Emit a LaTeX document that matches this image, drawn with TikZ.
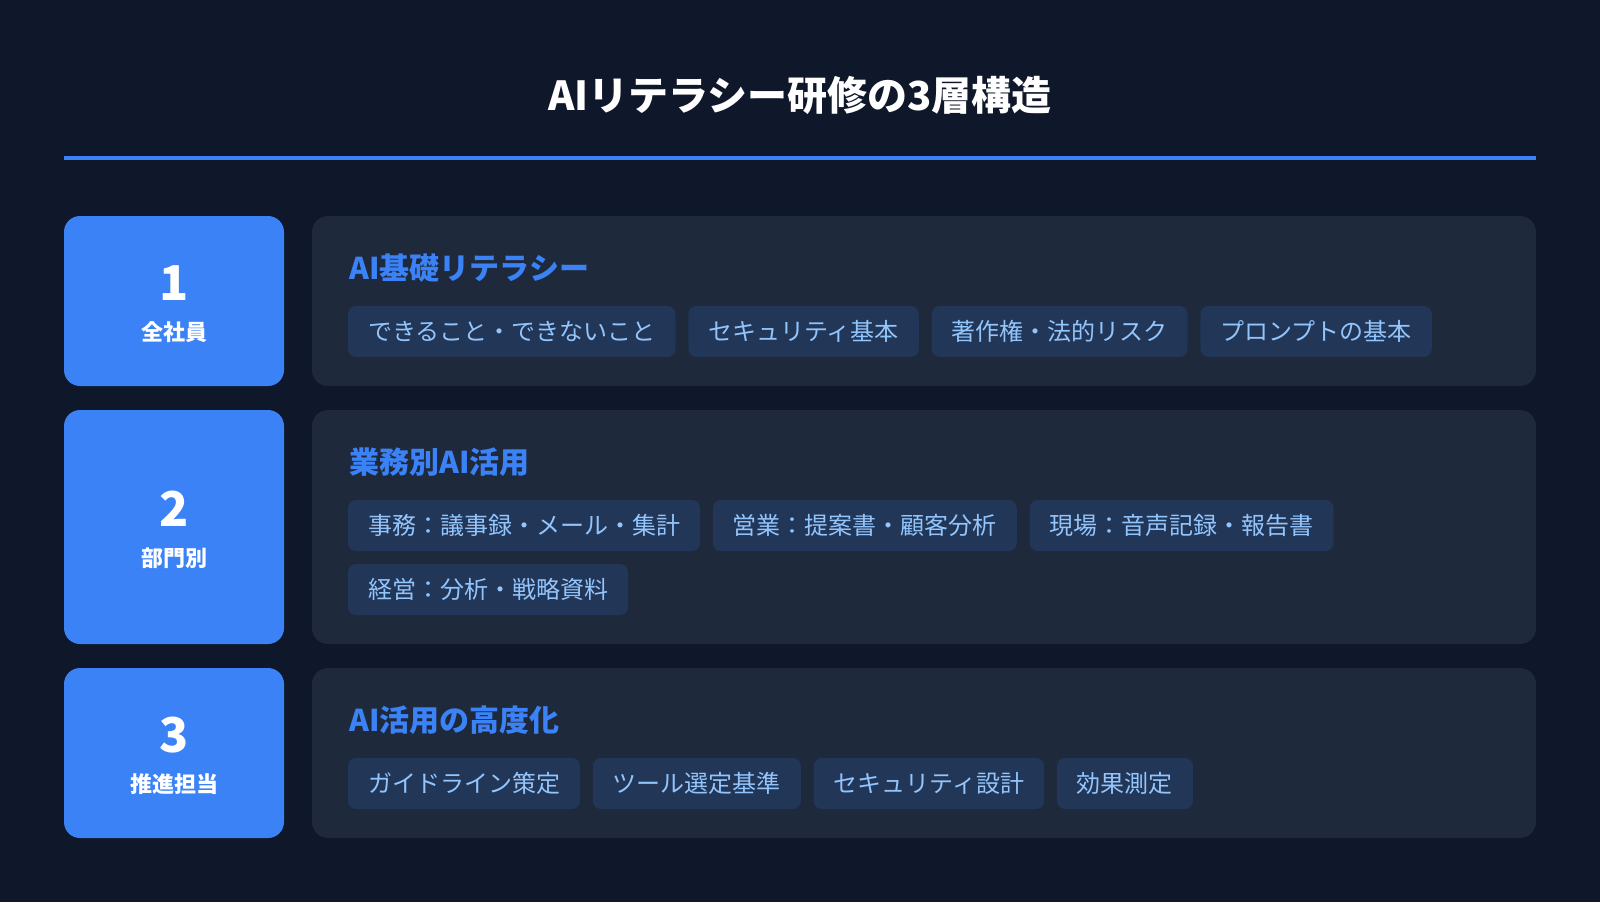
\documentclass[tikz,border=0pt]{standalone}
\usepackage{fontspec}
\setmainfont{Noto Sans CJK JP}
\usepackage{tikz}
\usetikzlibrary{positioning}
\definecolor{bgcol}{HTML}{0F172A}
\definecolor{panelcol}{HTML}{1E293B}
\definecolor{accent}{HTML}{3B82F6}
\definecolor{chipcol}{HTML}{223657}
\definecolor{chiptext}{HTML}{93C5FD}

\begin{document}
\begin{tikzpicture}[x=0.5pt, y=-0.5pt,
    numbox/.style={fill=accent, rounded corners=8pt, minimum width=110pt, inner sep=0pt},
    panel/.style={fill=panelcol, rounded corners=8pt, minimum width=612pt, inner sep=0pt},
    numtext/.style={text=white, inner sep=0pt, font=\fontsize{24pt}{24pt}\selectfont\bfseries},
    grouptext/.style={text=white, inner sep=0pt, font=\fontsize{11pt}{11pt}\selectfont\bfseries},
    heading/.style={text=accent, anchor=west, inner sep=0pt, font=\fontsize{15pt}{15pt}\selectfont\bfseries},
    chip/.style={fill=chipcol, text=chiptext, rounded corners=4pt, minimum height=25.5pt,
        inner xsep=10pt, inner ysep=0pt, outer sep=0pt, font=\fontsize{12pt}{12pt}\selectfont}]

    % Define parameters
    \def\gap{6.4pt}      % space between chips

    % Background and frame
    \fill[bgcol] (0,0) rectangle (1600,902);
    \useasboundingbox (0,0) rectangle (1600,902);

    % Title and rule
    \node[text=white, font=\fontsize{20pt}{20pt}\selectfont\bfseries] (title) at (800,95) {AIリテラシー研修の3層構造};
    \coordinate (ruleL) at (64,158);
    \coordinate (ruleR) at (1536,158);
    \draw[accent, line width=2pt] (ruleL) -- (ruleR);

    % Draw layer boxes and panels
    \foreach \n/\y/\h/\lab in {1/301/170/全社員, 2/527/234/部門別, 3/753/170/推進担当} {
        \node[numbox, minimum height=\h*0.5pt] (box\n) at (174,\y) {};
        \node[panel, minimum height=\h*0.5pt] (panel\n) at (924,\y) {};
        \node[numtext] (num\n) at (174,\y-18) {\n};
        \node[grouptext] (grp\n) at (174,\y+31) {\lab};
    }

    % Layer 1
    \node[heading] (head1) at (349,268) {AI基礎リテラシー};
    \node[chip, anchor=west] (c11) at (348,331.5) {できること・できないこと};
    \node[chip, right=\gap of c11] (c12) {セキュリティ基本};
    \node[chip, right=\gap of c12] (c13) {著作権・法的リスク};
    \node[chip, right=\gap of c13] (c14) {プロンプトの基本};

    % Layer 2
    \node[heading] (head2) at (349,462) {業務別AI活用};
    \node[chip, anchor=west] (c21) at (348,525.5) {事務：議事録・メール・集計};
    \node[chip, right=\gap of c21] (c22) {営業：提案書・顧客分析};
    \node[chip, right=\gap of c22] (c23) {現場：音声記録・報告書};
    \node[chip, anchor=west] (c24) at (348,589.5) {経営：分析・戦略資料};

    % Layer 3
    \node[heading] (head3) at (349,720) {AI活用の高度化};
    \node[chip, anchor=west] (c31) at (348,783.5) {ガイドライン策定};
    \node[chip, right=\gap of c31] (c32) {ツール選定基準};
    \node[chip, right=\gap of c32] (c33) {セキュリティ設計};
    \node[chip, right=\gap of c33] (c34) {効果測定};
\end{tikzpicture}
\end{document}
